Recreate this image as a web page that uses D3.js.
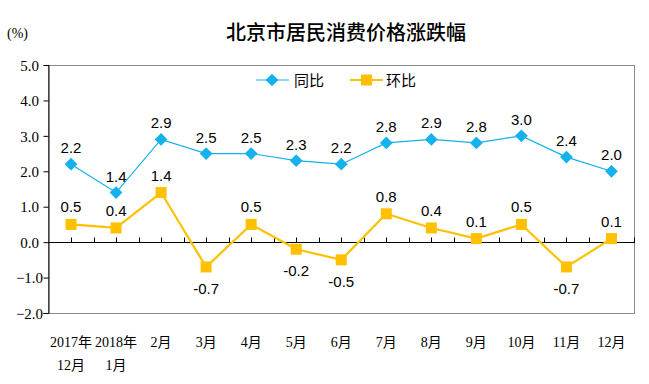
<!DOCTYPE html>
<html lang="zh">
<head>
<meta charset="UTF-8">
<title>北京市居民消费价格涨跌幅</title>
<script src="https://d3js.org/d3.v7.min.js"></script>
<style>
  body { margin: 0; background: #fff; }
  svg { display: block; }
  .serif { font-family: "Liberation Serif", "Noto Sans CJK SC", serif; }
  .lbl { font-family: "Liberation Sans", Arial, sans-serif; font-size: 15px; fill: #000; }
</style>
</head>
<body>
<div id="chart"></div>
<script>
// data
const months = ["2017年|12月", "2018年|1月", "2月", "3月", "4月", "5月", "6月", "7月", "8月", "9月", "10月", "11月", "12月"];
const yoy = [2.2, 1.4, 2.9, 2.5, 2.5, 2.3, 2.2, 2.8, 2.9, 2.8, 3.0, 2.4, 2.0];   // 同比
const mom = [0.5, 0.4, 1.4, -0.7, 0.5, -0.2, -0.5, 0.8, 0.4, 0.1, 0.5, -0.7, 0.1]; // 环比
const yTicks = [5, 4, 3, 2, 1, 0, -1, -2];

const W = 649, H = 384;
const pLeft = 48, pRight = 634, pTop = 65, pBottom = 313;
const blue = "#14b1ec", gold = "#ffc000";

const svg = d3.select("#chart").append("svg")
  .attr("width", W).attr("height", H);

const x = d3.scaleBand().domain(months).range([pLeft + 0.5, pRight]);
const y = d3.scaleLinear().domain([-2, 5]).range([pBottom, pTop]);
const cx = d => x(d) + x.bandwidth() / 2;

// title
svg.append("text")
  .attr("x", 346).attr("y", 40)
  .attr("text-anchor", "middle")
  .style("font-family", "'Noto Sans CJK SC', sans-serif")
  .style("font-size", "20px").style("font-weight", 500)
  .text("北京市居民消费价格涨跌幅");

svg.append("text").attr("class", "serif")
  .attr("x", 7).attr("y", 38)
  .style("font-size", "14px")
  .text("(%)");

// frame
svg.append("rect")
  .attr("x", pLeft + 0.5).attr("y", pTop + 0.5)
  .attr("width", pRight - pLeft).attr("height", pBottom - pTop)
  .attr("fill", "none").attr("stroke", "#8c8c8c");

// y axis
const yAxis = svg.append("g")
  .attr("transform", `translate(${pLeft + 0.5},0)`)
  .call(d3.axisLeft(y).tickValues(yTicks).tickSize(5).tickPadding(6).tickFormat(d3.format(".1f")));
yAxis.select(".domain").attr("stroke", "#000");
yAxis.selectAll(".tick line").attr("stroke", "#000");
yAxis.selectAll("text").attr("class", "serif")
  .style("font-size", "15px").attr("fill", "#000")
  .attr("x", -19).attr("text-anchor", "middle").attr("dy", "0.35em");

// zero line with half-band ticks pointing up
const z = Math.round(y(0)) + 0.5;
svg.append("line")
  .attr("x1", pLeft).attr("x2", pRight + 1)
  .attr("y1", z).attr("y2", z)
  .attr("stroke", "#000");
const half = [];
months.forEach(m => { half.push(cx(m)); half.push(x(m) + x.bandwidth()); });
svg.append("g").selectAll("line").data(half).join("line")
  .attr("x1", d => Math.round(d) + 0.5).attr("x2", d => Math.round(d) + 0.5)
  .attr("y1", z).attr("y2", z - 5)
  .attr("stroke", "#000");

// category labels
const cat = svg.append("g").selectAll("text").data(months).join("text")
  .attr("class", "serif")
  .attr("text-anchor", "middle")
  .style("font-size", "14px")
  .attr("x", d => cx(d));
cat.each(function (d) {
  const parts = d.split("|");
  const t = d3.select(this);
  parts.forEach((p, i) => {
    t.append("tspan").attr("x", cx(d)).attr("y", 347 + i * 23).text(p);
  });
});

// lines
const line = d3.line().x((d, i) => cx(months[i])).y(d => y(d));

svg.append("path").datum(yoy)
  .attr("d", line).attr("fill", "none")
  .attr("stroke", blue).attr("stroke-width", 1.2);
svg.append("path").datum(mom)
  .attr("d", line).attr("fill", "none")
  .attr("stroke", gold).attr("stroke-width", 2.2);

// markers
svg.append("g").selectAll("path").data(yoy).join("path")
  .attr("transform", (d, i) => `translate(${cx(months[i])},${y(d)}) rotate(45)`)
  .attr("d", "M-4.5,-4.5H4.5V4.5H-4.5Z")
  .attr("fill", blue);
svg.append("g").selectAll("rect").data(mom).join("rect")
  .attr("x", (d, i) => cx(months[i]) - 5.5).attr("y", d => y(d) - 5.5)
  .attr("width", 11).attr("height", 11)
  .attr("fill", gold);

// data labels
svg.append("g").selectAll("text").data(yoy).join("text")
  .attr("class", "lbl").attr("text-anchor", "middle")
  .attr("x", (d, i) => cx(months[i])).attr("y", d => y(d) - 11)
  .text(d => d.toFixed(1));
svg.append("g").selectAll("text").data(mom).join("text")
  .attr("class", "lbl").attr("text-anchor", "middle")
  .attr("x", (d, i) => cx(months[i]))
  .attr("y", d => d >= 0 ? y(d) - 12 : y(d) + 27)
  .text(d => d.toFixed(1));

// legend
const lg = svg.append("g");
lg.append("line").attr("x1", 256).attr("x2", 289).attr("y1", 80).attr("y2", 80)
  .attr("stroke", blue).attr("stroke-width", 1.2);
lg.append("path").attr("transform", "translate(272,80) rotate(45)")
  .attr("d", "M-4.5,-4.5H4.5V4.5H-4.5Z").attr("fill", blue);
lg.append("text").attr("x", 294).attr("y", 86)
  .style("font-family", "'Noto Sans CJK SC', sans-serif").style("font-size", "15px")
  .text("同比");
lg.append("line").attr("x1", 350).attr("x2", 383).attr("y1", 80).attr("y2", 80)
  .attr("stroke", gold).attr("stroke-width", 2.2);
lg.append("rect").attr("x", 361).attr("y", 74.5).attr("width", 11).attr("height", 11)
  .attr("fill", gold);
lg.append("text").attr("x", 386).attr("y", 86)
  .style("font-family", "'Noto Sans CJK SC', sans-serif").style("font-size", "15px")
  .text("环比");
</script>
</body>
</html>
